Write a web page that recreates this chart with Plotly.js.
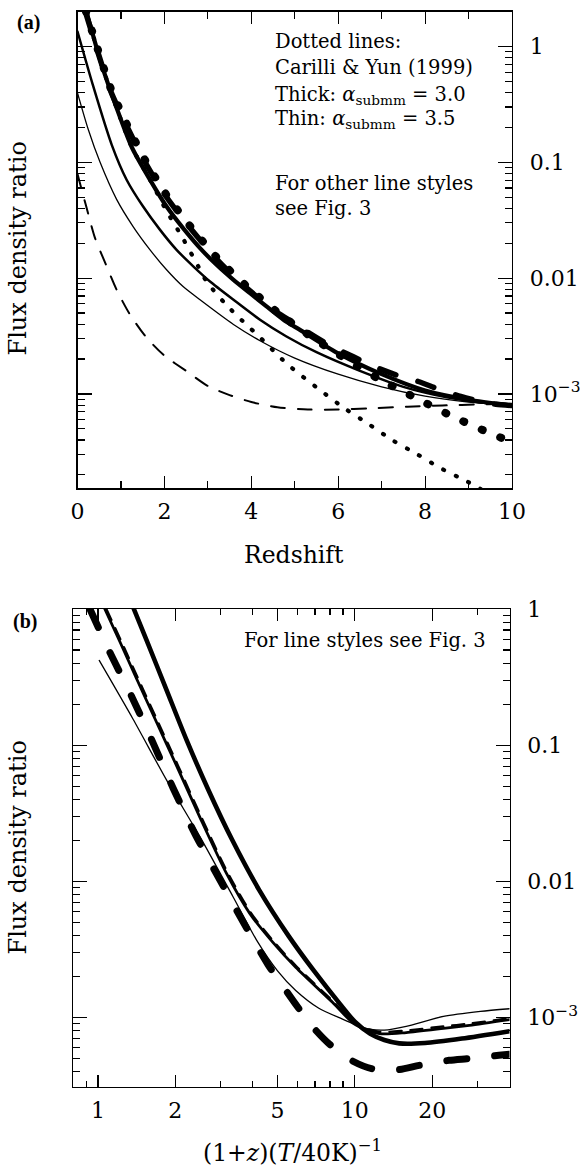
<!DOCTYPE html>
<html><head><meta charset="utf-8">
<script src="https://cdn.plot.ly/plotly-3.0.1.min.js"></script>
<style>
html,body{margin:0;padding:0;background:#fff;}
#chart{width:580px;height:1168px;}
.scatterlayer path.js-line{stroke-linecap:round;stroke-linejoin:round;}
</style></head><body><div id="chart"></div><script>
// ---------- Panel (a): flux density ratio vs redshift ----------
const zThickDot = [0.19,0.47,0.77,1.15,1.58,2.06,2.63,3.24,3.88,4.60,5.37,6.14,6.90,7.75,8.59,9.45,9.86,10];
const fThickDot = [2.03,0.938,0.429,0.207,0.1005,0.0514,0.0270,0.0146,0.00859,0.00508,0.00313,0.00204,0.00137,0.000938,0.000650,0.000465,0.000402,0.000380];
const zThinDot = [0.2,0.55,0.9,1.25,1.67,2.05,2.43,2.78,2.97,3.41,3.89,4.14,4.82,5.58,6.14,6.69,7.23,7.80,8.35,8.97,9.25,9.5];
const fThinDot = [2.04,0.708,0.295,0.135,0.0706,0.038,0.0219,0.0126,0.00935,0.00596,0.00395,0.00324,0.00182,0.00108,0.000753,0.000552,0.000402,0.000304,0.000229,0.000175,0.000153,0.000135];
const zThickDash = [0.19,0.47,0.77,1.15,1.58,2.06,2.63,3.24,3.75,4.26,4.56,5.03,5.29,5.80,6.35,6.86,7.33,7.84,8.31,8.82,9.20,9.63,10];
const fThickDash = [1.95,0.891,0.407,0.200,0.0966,0.0495,0.0260,0.0141,0.00912,0.00631,0.00515,0.00398,0.00343,0.00263,0.00209,0.00170,0.00146,0.00128,0.00110,0.000951,0.000871,0.000813,0.000794];
const zThickSolid = [0.1,0.2,0.55,0.9,1.25,1.67,2.05,2.43,2.82,3.2,3.59,3.97,4.35,4.74,5.12,6,7,8,9,10];
const fThickSolid = [2.82,2.04,0.708,0.295,0.135,0.0706,0.0415,0.0270,0.01816,0.01303,0.00966,0.00741,0.00569,0.00437,0.00357,0.00224,0.00148,0.00107,0.000891,0.000794];
const zMedSolid = [0,0.36,0.79,1.13,1.51,1.90,2.28,2.67,3.05,3.59,4.2,4.81,5.5,6.5,7.5,8.5,9.3,10];
const fMedSolid = [1.349,0.457,0.141,0.0708,0.0415,0.0261,0.01754,0.01259,0.00935,0.0065,0.00437,0.00313,0.00229,0.00158,0.00115,0.000933,0.000841,0.000794];
const zThinSolid = [0,0.25,0.52,0.9,1.28,1.67,2.05,2.43,2.82,3.59,4.2,5,6,7,8,9,10];
const fThinSolid = [0.398,0.191,0.100,0.0479,0.0279,0.01754,0.0118,0.00845,0.0065,0.00398,0.00288,0.00204,0.00148,0.00115,0.000955,0.000851,0.000794];
const zThinDash = [0,0.2,0.4,0.65,0.9,1.2,1.58,2.0,2.5,3.0,3.5,4.0,4.6,5.3,6.0,6.7,7.6,8.4,9.3,10];
const fThinDash = [0.0794,0.0417,0.0224,0.0132,0.00794,0.00490,0.00309,0.00214,0.00158,0.00117,0.000977,0.000851,0.000767,0.000733,0.000733,0.000750,0.000776,0.000794,0.000813,0.000822];

// ---------- Panel (b): flux density ratio vs (1+z)(T/40K)^-1 ----------
const xbThickDash = [0.931,1.114,1.352,1.641,1.963,2.382,2.938,3.673,4.592,5.333,5.984,6.950,7.925,9.683,11.61,14.89,17.86,23.28,27.93,36.39,40];
const fbThickDash = [1.0,0.479,0.229,0.1035,0.0483,0.0225,0.0108,0.00505,0.00245,0.00163,0.00120,0.000830,0.000644,0.000485,0.000422,0.000415,0.000446,0.000485,0.000500,0.000528,0.000537];
const xbThinSolid = [1.012,1.371,1.849,2.495,3.357,4.140,5.012,5.888,7.244,8.913,10,11.40,13.46,15.85,22.13,30.83,40];
const fbThinSolid = [0.419,0.155,0.0556,0.0213,0.00771,0.00372,0.00219,0.00158,0.00117,0.000977,0.000891,0.000822,0.000813,0.000861,0.00102,0.00111,0.00116];
const xbMedSolid = [1.064,1.218,1.413,1.690,2.023,2.495,3.162,3.899,4.808,5.888,8.204,10,12.47,15.85,22.13,27.93,40];
const fbMedSolid = [1.0,0.575,0.309,0.148,0.0708,0.0295,0.01148,0.00582,0.00355,0.00234,0.00129,0.000891,0.000762,0.000776,0.000832,0.000877,0.000966];
const xbMedDash = [1.079,1.235,1.433,1.714,2.051,2.530,3.206,3.953,4.875,5.970,8.319,10,12.47,15.85,22.13,27.93,40];
const fbMedDash = [1.0,0.575,0.309,0.148,0.0708,0.0295,0.01148,0.00582,0.00355,0.00234,0.00129,0.000902,0.000785,0.000804,0.000861,0.000902,0.000989];
const xbThickSolid = [1.380,1.545,1.849,2.213,2.692,3.334,4.246,5.521,6.950,8.750,10,11.48,13.03,14.89,18.75,26.12,40];
const fbThickSolid = [1.0,0.594,0.255,0.1094,0.0469,0.0201,0.00863,0.00398,0.00219,0.00126,0.000933,0.000759,0.000684,0.000646,0.000650,0.000701,0.000794];

// tick labels
const yTickVals = [1,0.1,0.01,0.001];
const yTickText = ['1','0.1','0.01','10<sup>\u22123</sup>'];
const yMinorVals = [2,3,4,5,6,7,8,9,0.2,0.3,0.4,0.5,0.6,0.7,0.8,0.9,0.02,0.03,0.04,0.05,0.06,0.07,0.08,0.09,0.002,0.003,0.004,0.005,0.006,0.007,0.008,0.009,0.0002,0.0003,0.0004,0.0005,0.0006,0.0007,0.0008,0.0009];
const xaTickVals = [0,2,4,6,8,10];
const xaTickText = ['0','2','4','6','8','10'];
const xaMinorVals = [1,3,5,7,9];
const xbTickVals = [1,2,5,10,20];
const xbTickText = ['1','2','5','10','20'];
const xbMinorVals = [0.9,3,4,6,7,8,9,30,40];

const K = '#000';
function tr(x, y, xa, ya, width, dash, name){
  return {x:x, y:y, xaxis:xa, yaxis:ya, type:'scatter', mode:'lines', name:name,
    line:{color:K, width:width, dash:dash, shape:'spline', smoothing:0.7},
    hoverinfo:'skip', showlegend:false};
}
const data = [
  tr(zThinSolid, fThinSolid, 'x','y', 1.3, 'solid', 'thin solid'),
  tr(zMedSolid, fMedSolid, 'x','y', 2.5, 'solid', 'medium solid'),
  tr(zThickSolid, fThickSolid, 'x','y', 4.2, 'solid', 'thick solid'),
  tr(zThinDash, fThinDash, 'x','y', 2.0, '14px,13px', 'thin dashed'),
  tr(zThickDash, fThickDash, 'x','y', 5.5, '17px,23px', 'thick dashed'),
  tr(zThinDot, fThinDot, 'x','y', 4.2, '1px,13px', 'thin dotted'),
  tr(zThickDot, fThickDot, 'x','y', 8, '1px,19px', 'thick dotted'),
  tr(xbThinSolid, fbThinSolid, 'x2','y2', 1.3, 'solid', 'thin solid'),
  tr(xbMedSolid, fbMedSolid, 'x2','y2', 2.8, 'solid', 'medium solid'),
  tr(xbMedDash, fbMedDash, 'x2','y2', 2.3, '12px,9px', 'medium dashed'),
  tr(xbThickSolid, fbThickSolid, 'x2','y2', 4.6, 'solid', 'thick solid'),
  tr(xbThickDash, fbThickDash, 'x2','y2', 7, '20px,28px', 'thick dashed')
];

const W = 580, H = 1168;
const FONT = 'DejaVu Serif, serif';
function px(v){return v/W;}
function py(v){return 1 - v/H;}
const axCommon = {showline:true, linecolor:K, linewidth:1.4, mirror:'ticks', ticks:'inside',
  tickcolor:K, tickwidth:1.2, showgrid:false, zeroline:false, fixedrange:true,
  tickfont:{family:FONT, size:22, color:K}};

const layout = {
  width:W, height:H, margin:{l:0,r:0,t:0,b:0}, paper_bgcolor:'#fff', plot_bgcolor:'#fff',
  showlegend:false,
  xaxis: Object.assign({}, axCommon, {domain:[px(77.5), px(512)], anchor:'y', type:'linear', range:[0,10],
    tickmode:'array', tickvals:xaTickVals, ticktext:xaTickText, ticklen:12, ticklabelstandoff:3,
    minor:{tickmode:'array', tickvals:xaMinorVals, ticks:'inside', ticklen:7, tickcolor:K, tickwidth:1.2}}),
  yaxis: Object.assign({}, axCommon, {domain:[py(488.3), py(11.7)], anchor:'x', type:'log', side:'right',
    range:[Math.log10(1.53e-4), Math.log10(2.0)], tickmode:'array', tickvals:yTickVals, ticktext:yTickText,
    ticklen:14, ticklabelstandoff:12,
    minor:{tickmode:'array', tickvals:yMinorVals, ticks:'inside', ticklen:7, tickcolor:K, tickwidth:1.2}}),
  xaxis2: Object.assign({}, axCommon, {domain:[px(73), px(509.5)], anchor:'y2', type:'log',
    range:[Math.log10(0.8), Math.log10(40)], tickmode:'array', tickvals:xbTickVals, ticktext:xbTickText,
    ticklen:12, ticklabelstandoff:3,
    minor:{tickmode:'array', tickvals:xbMinorVals, ticks:'inside', ticklen:6, tickcolor:K, tickwidth:1.2}}),
  yaxis2: Object.assign({}, axCommon, {domain:[py(1087), py(609)], anchor:'x2', type:'log', side:'right',
    range:[-3.51, 0], tickmode:'array', tickvals:yTickVals, ticktext:yTickText,
    ticklen:14, ticklabelstandoff:12,
    minor:{tickmode:'array', tickvals:yMinorVals, ticks:'inside', ticklen:7, tickcolor:K, tickwidth:1.2}}),
  annotations: []
};
function ann(text, x, y, size, opts){
  return Object.assign({text:text, xref:'paper', yref:'paper', x:px(x), y:py(y), showarrow:false,
    xanchor:'left', yanchor:'middle', font:{family:FONT, size:size, color:K}}, opts||{});
}
const noteSize = 19.5;
layout.annotations.push(
  ann('<b>(a)</b>', 28, 23, 20, {xanchor:'center', font:{family:'Liberation Serif, serif', size:20, color:K}}),
  ann('Dotted lines:', 273, 41, noteSize),
  ann('Carilli &amp; Yun (1999)', 273, 67, noteSize),
  ann('Thick: <i>\u03b1</i><sub>submm</sub> = 3.0', 273, 95, noteSize),
  ann('Thin: <i>\u03b1</i><sub>submm</sub> = 3.5', 273, 120, noteSize),
  ann('For other line styles', 273, 183, noteSize),
  ann('see Fig. 3', 273, 208, noteSize),
  ann('Flux density ratio', 17.5, 249, 24, {xanchor:'center', textangle:-90}),
  ann('Redshift', 294, 555, 23.5, {xanchor:'center'}),
  ann('<b>(b)</b>', 25, 621, 20, {xanchor:'center', font:{family:'Liberation Serif, serif', size:20, color:K}}),
  ann('For line styles see Fig. 3', 242, 641, noteSize),
  ann('Flux density ratio', 17.5, 848, 24, {xanchor:'center', textangle:-90}),
  ann('(1+<i>z</i>)(<i>T</i>/40K)<sup>\u22121</sup>', 292, 1151, 23.5, {xanchor:'center'})
);
Plotly.newPlot('chart', data, layout, {staticPlot:true, displayModeBar:false});
</script></body></html>
